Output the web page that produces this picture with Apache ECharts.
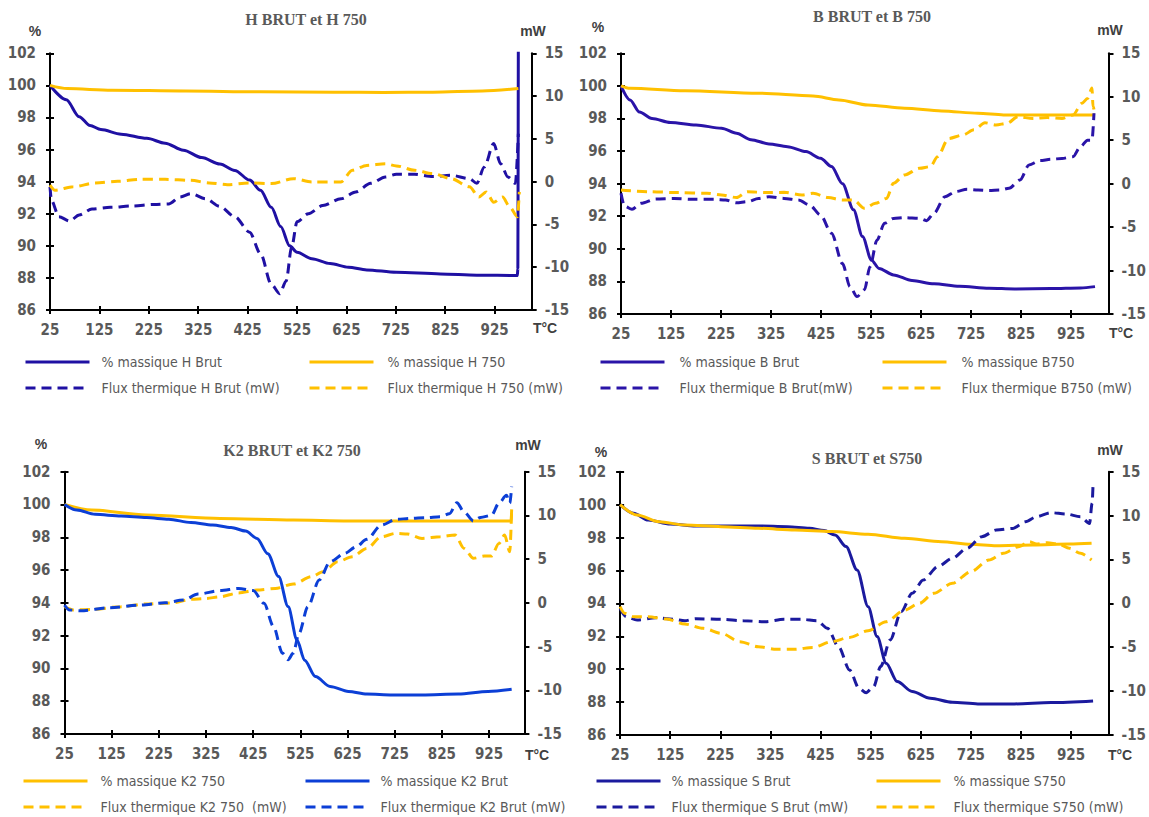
<!DOCTYPE html>
<html>
<head>
<meta charset="utf-8">
<script src="https://cdn.jsdelivr.net/npm/echarts@6/dist/echarts.min.js"></script>
<style>
html,body{margin:0;padding:0;background:#fff;}
#chart{width:1149px;height:817px;}
</style>
</head>
<body>
<div id="chart"></div>
<script>
// ---------- tick labels ----------
const X_TICKS = [25,125,225,325,425,525,625,725,825,925];
const TITLES = ['H BRUT et H 750','B BRUT et B 750','K2 BRUT et K2 750','S BRUT et S750'];

// ---------- Panel 1 : H ----------
const H_BRUT_MASS = [[25,100],[58,99.1],[84,98.05],[106,97.5],[128,97.25],[169,96.96],[221,96.7],[258,96.4],[295,95.96],[332,95.5],[369,95.1],[399,94.7],[429,94.1],[451,93.46],[473,92.4],[492,91.2],[510,90.0],[525,89.6],[555,89.2],[592,88.9],[629,88.67],[666,88.5],[726,88.35],[815,88.25],[889,88.17],[971,88.15],[972,88.6],[973,104]];
const H_750_MASS = [[25,100],[60,99.8],[150,99.7],[300,99.65],[450,99.6],[600,99.58],[700,99.55],[800,99.58],[900,99.65],[973,99.8]];
const H_BRUT_FLUX = [[25,-0.6],[28,-2.2],[43,-4.1],[65,-4.6],[84,-3.9],[110,-3.2],[147,-3.0],[191,-2.85],[236,-2.66],[266,-2.6],[288,-1.8],[310,-1.4],[340,-2.0],[369,-2.9],[399,-4.1],[429,-5.9],[451,-8.4],[473,-12.0],[490,-13.1],[503,-11.6],[514,-7.7],[525,-4.7],[548,-3.75],[577,-2.8],[614,-2.0],[644,-1.2],[674,-0.2],[704,0.55],[726,0.86],[763,0.86],[800,0.6],[837,0.74],[874,0.35],[889,-0.2],[904,1.7],[923,4.45],[937,2.1],[952,0.55],[967,-0.2],[973,5.6]];
const H_750_FLUX = [[25,-0.4],[35,-1.0],[72,-0.6],[117,-0.15],[162,0.04],[206,0.27],[258,0.27],[310,0.16],[347,-0.15],[384,-0.35],[429,-0.15],[473,-0.23],[518,0.35],[555,-0.04],[614,-0.04],[637,1.33],[666,1.9],[704,2.1],[726,1.84],[763,1.33],[800,0.94],[837,0.35],[874,-0.6],[893,-1.8],[908,-1.2],[923,-2.4],[941,-1.8],[956,-3.0],[971,-4.1],[975,-1.2]];

// ---------- Panel 2 : B ----------
const B_BRUT_MASS = [[25,100],[43,99.14],[62,98.4],[87,98.0],[124,97.75],[175,97.6],[226,97.4],[256,97.1],[285,96.7],[321,96.44],[358,96.27],[395,95.97],[424,95.56],[446,95.05],[468,94.0],[490,92.4],[508,90.75],[526,89.3],[541,88.8],[570,88.4],[607,88.05],[651,87.85],[702,87.7],[761,87.58],[812,87.54],[885,87.56],[944,87.6],[973,87.68]];
const B_750_MASS = [[25,100],[43,99.85],[153,99.7],[300,99.55],[409,99.38],[461,99.14],[519,98.83],[592,98.63],[666,98.46],[739,98.32],[790,98.22],[973,98.22]];
const B_BRUT_FLUX = [[25,-1.1],[32,-2.6],[47,-2.95],[65,-2.26],[95,-1.76],[131,-1.7],[168,-1.8],[212,-1.8],[234,-1.88],[256,-2.2],[278,-2.07],[300,-1.7],[321,-1.5],[351,-1.7],[380,-1.88],[402,-2.45],[424,-3.6],[446,-5.7],[468,-9.2],[483,-11.85],[497,-13.0],[512,-12.2],[523,-9.55],[537,-6.5],[552,-4.56],[570,-4.0],[592,-3.9],[622,-4.0],[636,-4.26],[651,-3.4],[673,-1.5],[695,-0.9],[717,-0.65],[739,-0.73],[761,-0.8],[783,-0.73],[801,-0.53],[823,0.42],[841,2.15],[863,2.65],[885,2.8],[907,2.9],[929,3.1],[944,4.26],[958,5.0],[967,5.0],[971,8.1]];
const B_750_FLUX = [[25,-0.73],[80,-0.92],[138,-1.03],[197,-1.1],[226,-1.3],[256,-1.6],[278,-0.92],[314,-1.03],[351,-1.0],[387,-1.3],[409,-1.1],[439,-1.6],[468,-1.88],[490,-1.88],[512,-2.84],[534,-2.26],[556,-1.7],[570,0.04],[592,1.0],[622,1.77],[644,1.96],[658,3.1],[680,5.2],[709,5.6],[731,6.2],[753,7.0],[775,6.75],[797,6.95],[819,7.7],[849,7.5],[878,7.6],[907,7.5],[929,7.9],[947,9.25],[958,9.8],[967,11.0],[969,8.9],[973,7.9]];

// ---------- Panel 3 : K2 ----------
const K2_750_MASS = [[25,100],[83,99.66],[199,99.36],[355,99.15],[510,99.05],[627,99.0],[744,99.0],[972,99.0],[973,99.7]];
const K2_BRUT_MASS = [[25,100],[51,99.66],[90,99.4],[145,99.3],[199,99.2],[246,99.1],[293,98.9],[339,98.75],[378,98.6],[409,98.38],[433,97.93],[456,97.0],[479,95.6],[499,93.77],[518,91.73],[534,90.5],[557,89.5],[588,88.9],[627,88.6],[666,88.44],[720,88.38],[783,88.38],[860,88.44],[923,88.6],[973,88.73]];
const K2_750_FLUX = [[25,-0.44],[44,-0.82],[83,-0.75],[145,-0.44],[199,-0.13],[254,0.0],[293,0.4],[324,0.5],[355,0.7],[394,1.14],[433,1.46],[472,1.65],[510,2.15],[549,2.99],[573,3.56],[604,4.7],[635,5.28],[666,6.23],[697,7.57],[728,7.95],[752,7.88],[783,7.37],[822,7.57],[853,7.76],[872,6.23],[892,5.1],[915,5.35],[930,5.35],[946,6.8],[958,7.76],[969,5.85],[973,10.6]];
const K2_BRUT_FLUX = [[25,-0.25],[36,-0.82],[59,-0.9],[121,-0.56],[184,-0.25],[238,0.0],[277,0.32],[308,1.0],[355,1.4],[394,1.65],[425,1.4],[448,-0.05],[468,-2.7],[487,-5.75],[499,-6.5],[510,-5.75],[522,-3.5],[541,-0.44],[565,2.6],[588,4.7],[619,5.66],[643,6.4],[666,7.26],[697,8.9],[728,9.55],[759,9.66],[790,9.74],[822,9.86],[841,10.2],[857,11.45],[872,10.4],[892,9.36],[907,9.77],[930,10.0],[946,11.4],[962,12.3],[969,11.4],[973,13.3]];

// ---------- Panel 4 : S ----------
const S_BRUT_MASS = [[25,100],[52,99.47],[81,99.06],[125,98.82],[176,98.7],[227,98.7],[301,98.7],[359,98.66],[403,98.56],[432,98.42],[454,98.15],[476,97.45],[498,96.03],[520,93.8],[538,91.98],[556,90.36],[578,89.25],[608,88.64],[644,88.23],[688,87.99],[739,87.89],[812,87.89],[885,87.97],[969,88.07]];
const S_750_MASS = [[25,100],[59,99.37],[103,98.96],[154,98.76],[227,98.66],[301,98.56],[374,98.46],[447,98.36],[520,98.2],[593,97.95],[666,97.75],[725,97.59],[776,97.5],[849,97.55],[922,97.6],[966,97.65]];
const S_BRUT_FLUX = [[25,-0.57],[37,-1.52],[59,-1.9],[96,-1.63],[132,-1.82],[154,-1.98],[176,-1.75],[227,-1.82],[271,-1.98],[315,-2.1],[352,-1.82],[388,-1.82],[418,-1.98],[439,-2.85],[461,-4.94],[483,-7.6],[502,-9.69],[516,-10.18],[531,-9.5],[545,-7.2],[564,-4.18],[586,-0.95],[608,1.14],[630,2.66],[659,4.18],[688,5.13],[717,6.27],[747,7.6],[776,8.35],[809,8.54],[834,9.3],[856,9.87],[885,10.33],[915,10.18],[944,9.87],[962,9.11],[967,11.4],[969,13.67]];
const S_750_FLUX = [[25,-0.38],[34,-1.14],[52,-1.52],[81,-1.52],[118,-1.79],[154,-2.36],[191,-2.85],[227,-3.42],[264,-4.37],[301,-4.94],[337,-5.24],[374,-5.24],[410,-5.02],[447,-4.37],[483,-3.88],[520,-3.12],[556,-2.09],[593,-0.76],[622,0.0],[651,1.14],[688,2.28],[725,3.61],[761,4.94],[790,5.7],[820,6.45],[842,7.02],[856,6.76],[878,6.91],[900,6.76],[922,6.27],[944,5.7],[966,4.94]];

// ---------- styling / layout ----------
const NAVY_H = '#1f10a3', NAVY_B = '#2a14a8', BLUE_K2 = '#0c3fd6', NAVY_S = '#1b1a9e', GOLD = '#ffc000';
const TICK_FONT = "'Liberation Sans Narrow','DejaVu Sans Condensed','Liberation Sans',sans-serif";
const LEG_FONT = "'Liberation Sans Narrow','DejaVu Sans Condensed','Liberation Sans',sans-serif";

const PANELS = [
  {grid:{left:50, top:53.3, width:481.7, height:256.7},
   title:[306,19], pct:[35,31], mw:[533,31], tc:[545,328], legY:[363,389], legX:[[24,100],[308,386]],
   series:[
     {name:'% massique H Brut', data:H_BRUT_MASS, color:NAVY_H, dash:false, axis:0},
     {name:'% massique H 750', data:H_750_MASS, color:GOLD, dash:false, axis:0},
     {name:'Flux thermique H Brut (mW)', data:H_BRUT_FLUX, color:NAVY_H, dash:true, axis:1},
     {name:'Flux thermique H 750 (mW)', data:H_750_FLUX, color:GOLD, dash:true, axis:1}]},
  {grid:{left:621, top:53.3, width:487.5, height:260.7},
   title:[872,16], pct:[598,27], mw:[1110,30], tc:[1121,333], legY:[363,389], legX:[[599,678],[881,960]],
   series:[
     {name:'% massique B Brut', data:B_BRUT_MASS, color:NAVY_B, dash:false, axis:0},
     {name:'% massique B750', data:B_750_MASS, color:GOLD, dash:false, axis:0},
     {name:'Flux thermique B Brut(mW)', data:B_BRUT_FLUX, color:NAVY_B, dash:true, axis:1},
     {name:'Flux thermique B750 (mW)', data:B_750_FLUX, color:GOLD, dash:true, axis:1}]},
  {grid:{left:64.5, top:471.7, width:459.9, height:262.3},
   title:[292,450], pct:[41,444], mw:[528,445], tc:[537,755], legY:[782,808], legX:[[22,99],[304,379]],
   series:[
     {name:'% massique K2 750', data:K2_750_MASS, color:GOLD, dash:false, axis:0},
     {name:'% massique K2 Brut', data:K2_BRUT_MASS, color:BLUE_K2, dash:false, axis:0},
     {name:'Flux thermique K2 750  (mW)', data:K2_750_FLUX, color:GOLD, dash:true, axis:1},
     {name:'Flux thermique K2 Brut (mW)', data:K2_BRUT_FLUX, color:BLUE_K2, dash:true, axis:1}]},
  {grid:{left:620.1, top:471.7, width:489.2, height:263.3},
   title:[867,458], pct:[601,452], mw:[1110,450], tc:[1120,755], legY:[782,808], legX:[[595,670],[875,952]],
   series:[
     {name:'% massique S Brut', data:S_BRUT_MASS, color:NAVY_S, dash:false, axis:0},
     {name:'% massique S750', data:S_750_MASS, color:GOLD, dash:false, axis:0},
     {name:'Flux thermique S Brut (mW)', data:S_BRUT_FLUX, color:NAVY_S, dash:true, axis:1},
     {name:'Flux thermique S750 (mW)', data:S_750_FLUX, color:GOLD, dash:true, axis:1}]}
];

const grids=[], xAxes=[], yAxes=[], series=[], legends=[], graphics=[];
const axisLineStyle = {color:'#000', width:2};
const labelStyle = {color:'#595959', fontSize:15, fontWeight:'bold', fontFamily:TICK_FONT};

PANELS.forEach((p, i) => {
  grids.push(Object.assign({containLabel:false, show:false}, p.grid));
  const xi = xAxes.length;
  xAxes.push({gridIndex:i, type:'value', min:25, max:1000, position:'bottom',
    axisLine:{show:true, onZero:false, lineStyle:axisLineStyle},
    axisTick:{show:true, customValues:X_TICKS, length:4, lineStyle:axisLineStyle},
    axisLabel:Object.assign({show:true, customValues:X_TICKS, margin:12}, labelStyle),
    splitLine:{show:false}});
  xAxes.push({gridIndex:i, type:'value', min:25, max:1000, position:'bottom',
    axisLine:{show:false, onZero:false},
    axisTick:{show:true, inside:true, customValues:X_TICKS, length:4, lineStyle:axisLineStyle},
    axisLabel:{show:false}, splitLine:{show:false}});
  const yi = yAxes.length;
  yAxes.push({gridIndex:i, type:'value', min:86, max:102, interval:2, position:'left',
    axisLine:{show:true, onZero:false, lineStyle:axisLineStyle},
    axisTick:{show:true, length:4, lineStyle:axisLineStyle},
    axisLabel:Object.assign({margin:14}, labelStyle), splitLine:{show:false}});
  yAxes.push({gridIndex:i, type:'value', min:-15, max:15, interval:5, position:'right',
    axisLine:{show:true, onZero:false, lineStyle:axisLineStyle},
    axisTick:{show:true, length:5, lineStyle:axisLineStyle},
    axisLabel:Object.assign({margin:13}, labelStyle), splitLine:{show:false}});
  yAxes.push({gridIndex:i, type:'value', min:86, max:102, interval:2, position:'left',
    axisLine:{show:false, onZero:false},
    axisTick:{show:true, inside:true, length:4, lineStyle:axisLineStyle},
    axisLabel:{show:false}, splitLine:{show:false}});

  p.series.forEach((s, k) => {
    series.push({name:s.name, type:'line', xAxisIndex:xi, yAxisIndex:yi + s.axis,
      data:s.data, symbol:'none', showSymbol:false, smooth:0.3, smoothMonotone:'x',
      clip:true, z: s.dash ? 3 : 2,
      lineStyle:{color:s.color, width:3, type: s.dash ? [10,6] : 'solid'},
      itemStyle:{color:s.color}});
    const col = k % 2, row = Math.floor(k / 2);
    const iconLeft = p.legX[col][0], textLeft = p.legX[col][1];
    const iconW = 64;
    legends.push({data:[s.name], left:iconLeft, top:p.legY[row] - 8, padding:0,
      itemWidth:iconW, itemHeight:16, itemGap:0, selectedMode:false,
      itemStyle:{color:'rgba(0,0,0,0)', borderWidth:0, opacity:0},
      lineStyle:{width:3},
      textStyle:{color:'#595959', fontSize:14, fontFamily:LEG_FONT,
        padding:[0,0,0, Math.max(0, textLeft - iconLeft - iconW - 5)]}});
  });

  graphics.push({type:'text', x:p.title[0], y:p.title[1],
    style:{text:TITLES[i], fill:'#595959', font:"bold 16px 'Liberation Serif', serif", align:'center', verticalAlign:'middle'}});
  graphics.push({type:'text', x:p.pct[0], y:p.pct[1],
    style:{text:'%', fill:'#404040', font:"bold 14px 'Liberation Sans', sans-serif", align:'center', verticalAlign:'middle'}});
  graphics.push({type:'text', x:p.mw[0], y:p.mw[1],
    style:{text:'mW', fill:'#404040', font:"bold 14px 'Liberation Sans', sans-serif", align:'center', verticalAlign:'middle'}});
  graphics.push({type:'text', x:p.tc[0], y:p.tc[1],
    style:{text:'T°C', fill:'#404040', font:"bold 14px 'Liberation Sans Narrow','Liberation Sans', sans-serif", align:'center', verticalAlign:'middle'}});
});

const chart = echarts.init(document.getElementById('chart'), null, {renderer:'svg', width:1149, height:817});
chart.setOption({
  animation:false,
  backgroundColor:'#ffffff',
  grid:grids, xAxis:xAxes, yAxis:yAxes, series:series, legend:legends,
  graphic:graphics
});
</script>
</body>
</html>
